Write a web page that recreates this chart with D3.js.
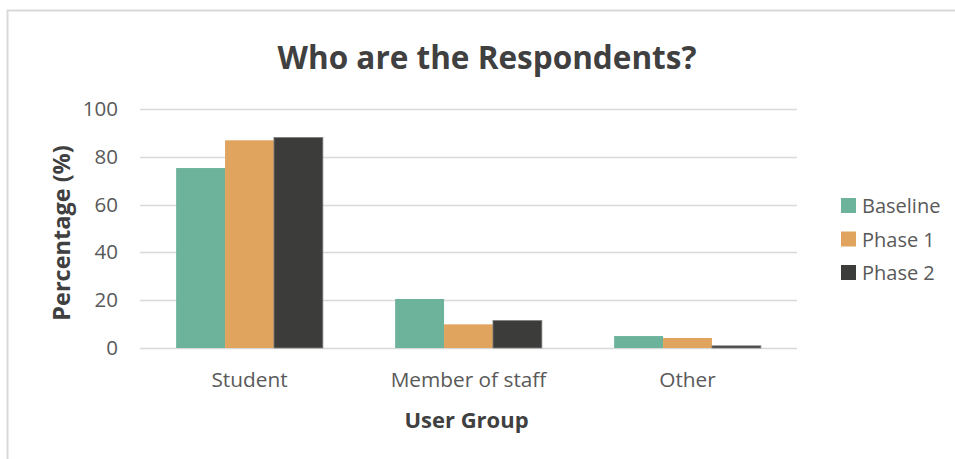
<!DOCTYPE html>
<html>
<head>
<meta charset="utf-8">
<script src="https://cdn.jsdelivr.net/npm/d3@7"></script>
<style>
  html, body { margin: 0; padding: 0; background: #fff; }
  svg { display: block; font-family: "Open Sans", "Noto Sans", sans-serif; }
</style>
</head>
<body>
<svg id="chart" width="955" height="459"></svg>
<script>
// Respondent groups and the share (%) of each in every survey phase
const categories = ["Student", "Member of staff", "Other"];
const seriesNames = ["Baseline", "Phase 1", "Phase 2"];
const baseline = [75.3, 20.5, 5.0];
const phase1 = [86.9, 9.9, 4.2];
const phase2 = [88.1, 11.5, 0.9];
const yTicks = [0, 20, 40, 60, 80, 100];
const colors = ["#6db39b", "#e0a45e", "#3c3c3b"];

const seriesValues = [baseline, phase1, phase2];
const svg = d3.select("#chart");

// chart frame
svg.append("path")
  .attr("d", "M7.5,459 V10.5 H955")
  .attr("fill", "none")
  .attr("stroke", "#d9d9d9")
  .attr("stroke-width", 2);

const plot = { left: 140, right: 797, top: 109, bottom: 348 };

const x = d3.scaleBand().domain(categories)
  .range([plot.left, plot.right]).paddingInner(0.33).paddingOuter(0.165);
const xs = d3.scaleBand().domain(seriesNames).range([0, x.bandwidth()]);
const y = d3.scaleLinear().domain([0, 100]).range([plot.bottom, plot.top]);

// gridlines
svg.append("g").selectAll("line").data(yTicks).join("line")
  .attr("x1", plot.left).attr("x2", plot.right)
  .attr("y1", d => Math.round(y(d)) + 0.5).attr("y2", d => Math.round(y(d)) + 0.5)
  .attr("stroke", "#d9d9d9").attr("stroke-width", 1.5);

// bars
const groups = svg.append("g").selectAll("g").data(seriesNames).join("g")
  .attr("fill", (d, i) => colors[i]);
groups.selectAll("rect")
  .data((s, si) => categories.map((c, ci) => ({ c, s, si, v: seriesValues[si][ci] })))
  .join("rect")
  .attr("x", d => x(d.c) + xs(d.s))
  .attr("width", xs.bandwidth())
  .attr("y", d => y(d.v))
  .attr("height", d => y(0) - y(d.v))
  .attr("stroke", d => d.si === 2 ? "#7f7f7f" : "none")
  .attr("stroke-width", 0.8);

// y axis labels
const yAxis = d3.axisLeft(y).tickValues(yTicks).tickSize(0).tickPadding(22);
const yg = svg.append("g").attr("transform", `translate(${plot.left},0)`).call(yAxis);
yg.select(".domain").remove();
yg.selectAll("text").attr("fill", "#595959").style("font-size", "20.5px")
  .style("font-family", "'Open Sans', sans-serif");

// x axis labels
const xAxis = d3.axisBottom(x).tickSize(0).tickPadding(24);
const xg = svg.append("g").attr("transform", `translate(0,${plot.bottom})`).call(xAxis);
xg.select(".domain").remove();
xg.selectAll("text").attr("fill", "#595959").style("font-size", "20.8px")
  .style("font-family", "'Open Sans', sans-serif");

// titles
svg.append("text").attr("x", 487).attr("y", 69).attr("text-anchor", "middle")
  .attr("fill", "#404040").style("font-size", "31.5px").style("font-weight", "bold")
  .text("Who are the Respondents?");
svg.append("text").attr("x", 466.5).attr("y", 428).attr("text-anchor", "middle")
  .attr("fill", "#404040").style("font-size", "22px").style("font-weight", "bold")
  .text("User Group");
svg.append("text")
  .attr("transform", "translate(70,233) rotate(-90)")
  .attr("text-anchor", "middle")
  .attr("fill", "#404040").style("font-size", "23.5px").style("font-weight", "bold")
  .text("Percentage (%)");

// legend
const legend = svg.append("g").selectAll("g").data(seriesNames).join("g")
  .attr("transform", (d, i) => `translate(841,${198 + i * 33.5})`);
legend.append("rect").attr("width", 15).attr("height", 15)
  .attr("fill", (d, i) => colors[i]);
legend.append("text").attr("x", 21).attr("y", 15)
  .attr("fill", "#595959").style("font-size", "20px").text(d => d);
</script>
</body>
</html>
